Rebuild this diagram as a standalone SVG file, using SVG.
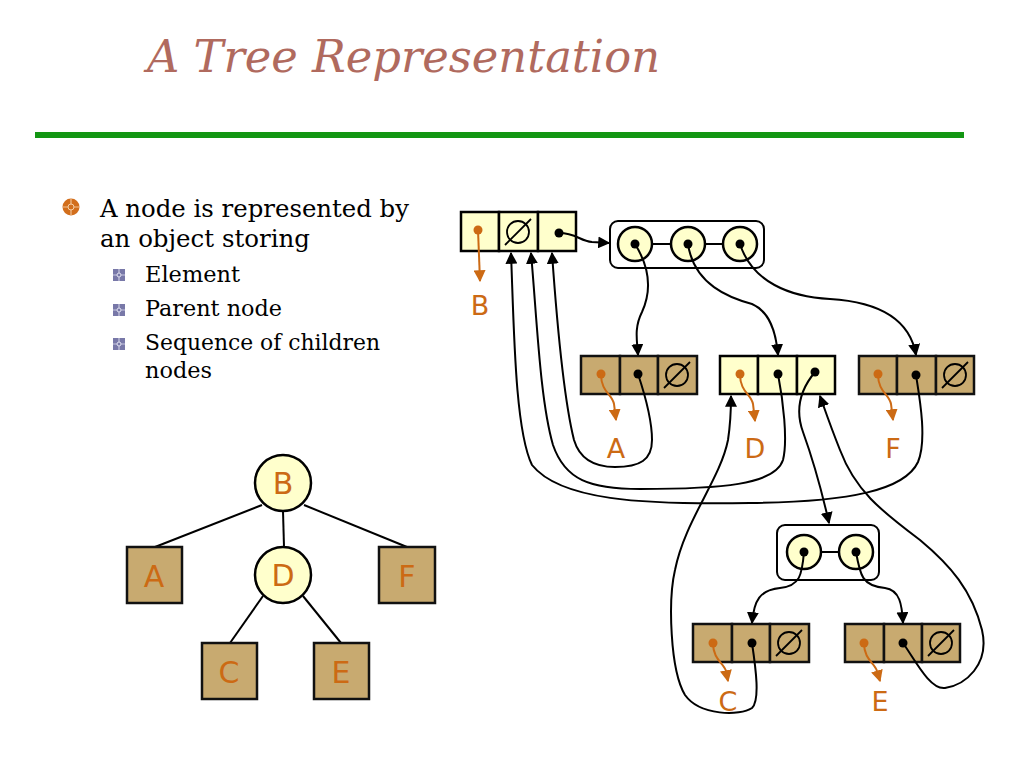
<svg xmlns="http://www.w3.org/2000/svg" width="1024" height="768" viewBox="0 0 1024 768">
<defs>
<style>
.title{font-family:"DejaVu Serif","Liberation Serif",serif;font-style:italic;font-size:44px;fill:#b06a5e}
.body{font-family:"DejaVu Serif","Liberation Serif",serif;font-size:25px;fill:#000}
.sub{font-family:"DejaVu Serif","Liberation Serif",serif;font-size:23px;fill:#000}
.lbl{font-family:"DejaVu Sans","Liberation Sans",sans-serif;font-size:27px;fill:#cc6a14;text-anchor:middle}
.tlbl{font-family:"DejaVu Sans","Liberation Sans",sans-serif;font-size:30px;fill:#cc6a14;text-anchor:middle}
.y{fill:#ffffcc;stroke:#000;stroke-width:2.5}
.t{fill:#c8aa70;stroke:#111;stroke-width:2.5}
.seq{fill:#fff;stroke:#000;stroke-width:2}
.c{fill:none;stroke:#000;stroke-width:2}
.o{fill:none;stroke:#cc6a14;stroke-width:2}
.dot{fill:#000}
.odot{fill:#cc6a14}
.null{fill:none;stroke:#000;stroke-width:1.8}
.edge{stroke:#000;stroke-width:2}
</style>
<marker id="ah" viewBox="0 0 10 10" refX="9" refY="5" markerWidth="6" markerHeight="6" orient="auto"><path d="M0,0 L10,5 L0,10 z" fill="#000"/></marker>
<marker id="oh" viewBox="0 0 10 10" refX="9" refY="5" markerWidth="6" markerHeight="6" orient="auto"><path d="M0,0 L10,5 L0,10 z" fill="#cc6a14"/></marker>
<g id="nullsym"><circle cx="0" cy="0" r="11" class="null"/><line x1="-13" y1="13" x2="13" y2="-13" class="null"/></g>
<g id="sbul"><rect x="-6" y="-6" width="12" height="12" fill="#7878a8"/><path d="M0,-6 V6 M-6,0 H6" stroke="#c8c8e0" stroke-width="1.2"/><circle r="2" fill="#7878a8" stroke="#e0e0f0" stroke-width="1"/></g>
</defs>
<rect width="1024" height="768" fill="#fff"/>

<text class="title" x="147" y="72" textLength="513" lengthAdjust="spacingAndGlyphs">A Tree Representation</text>
<rect x="35" y="132" width="929" height="6" fill="#139613"/>

<g id="bullets">
<circle cx="71" cy="207" r="8.5" fill="#d26e1c"/>
<path d="M71,199 V215 M63,207 H79" stroke="#f0c090" stroke-width="1.2"/>
<circle cx="71" cy="207" r="3" fill="#d26e1c" stroke="#f5d0a8" stroke-width="1"/>
<text class="body" x="100" y="217" textLength="309" lengthAdjust="spacingAndGlyphs">A node is represented by</text>
<text class="body" x="100" y="247" textLength="210" lengthAdjust="spacingAndGlyphs">an object storing</text>
<use href="#sbul" x="119" y="275"/>
<text class="sub" x="145" y="282" textLength="95" lengthAdjust="spacingAndGlyphs">Element</text>
<use href="#sbul" x="119" y="310"/>
<text class="sub" x="145" y="316" textLength="137" lengthAdjust="spacingAndGlyphs">Parent node</text>
<use href="#sbul" x="119" y="344"/>
<text class="sub" x="145" y="350" textLength="235" lengthAdjust="spacingAndGlyphs">Sequence of children</text>
<text class="sub" x="145" y="378" textLength="67" lengthAdjust="spacingAndGlyphs">nodes</text>
</g>

<g id="tree">
<g id="tree-edges">
<line class="edge" x1="262" y1="505" x2="155" y2="547"/>
<line class="edge" x1="283" y1="511" x2="284" y2="547"/>
<line class="edge" x1="304" y1="505" x2="407" y2="547"/>
<line class="edge" x1="263" y1="596" x2="230" y2="643"/>
<line class="edge" x1="303" y1="596" x2="341" y2="643"/>
</g>
<g id="tB"><circle cx="283" cy="483" r="28" class="y"/><text class="tlbl" x="283" y="494">B</text></g>
<g id="tA"><rect x="127" y="547" width="55" height="56" class="t"/><text class="tlbl" x="154" y="587">A</text></g>
<g id="tD"><circle cx="283" cy="575" r="28" class="y"/><text class="tlbl" x="283" y="586">D</text></g>
<g id="tF"><rect x="379" y="547" width="56" height="56" class="t"/><text class="tlbl" x="407" y="587">F</text></g>
<g id="tC"><rect x="202" y="643" width="55" height="56" class="t"/><text class="tlbl" x="229" y="683">C</text></g>
<g id="tE"><rect x="314" y="643" width="55" height="56" class="t"/><text class="tlbl" x="341" y="683">E</text></g>
</g>

<g id="nodeB">
<rect x="461" y="212" width="38" height="39" class="y"/>
<rect x="499" y="212" width="39" height="39" class="y"/>
<rect x="538" y="212" width="38" height="39" class="y"/>
<use href="#nullsym" x="518" y="232"/>
<circle cx="478" cy="230" r="4.5" class="odot"/>
<circle cx="559" cy="233" r="4.5" class="dot"/>
<path class="o" d="M478,230 L480,281" marker-end="url(#oh)"/>
<text class="lbl" x="480" y="315">B</text>
</g>

<g id="seqB">
<rect x="610" y="221" width="154" height="47" rx="8" class="seq"/>
<line x1="652" y1="244" x2="671" y2="244" class="edge"/>
<line x1="705" y1="244" x2="723" y2="244" class="edge"/>
<circle cx="635" cy="244" r="17" class="y"/>
<circle cx="688" cy="244" r="17" class="y"/>
<circle cx="740" cy="244" r="17" class="y"/>
<circle cx="635" cy="244" r="4.5" class="dot"/>
<circle cx="688" cy="244" r="4.5" class="dot"/>
<circle cx="740" cy="244" r="4.5" class="dot"/>
</g>

<g id="nodeA">
<rect x="581" y="356" width="39" height="38" class="t"/>
<rect x="620" y="356" width="38" height="38" class="t"/>
<rect x="658" y="356" width="39" height="38" class="t"/>
<use href="#nullsym" x="677" y="375"/>
<circle cx="601" cy="374" r="4.5" class="odot"/>
<circle cx="638" cy="374" r="4.5" class="dot"/>
<path class="o" d="M601,374 C601,392 612,394 614,404 L616,420" marker-end="url(#oh)"/>
<text class="lbl" x="616" y="458">A</text>
</g>

<g id="nodeD">
<rect x="720" y="356" width="38" height="38" class="y"/>
<rect x="758" y="356" width="39" height="38" class="y"/>
<rect x="797" y="356" width="38" height="38" class="y"/>
<circle cx="740" cy="374" r="4.5" class="odot"/>
<circle cx="778" cy="374" r="4.5" class="dot"/>
<circle cx="815" cy="372" r="4.5" class="dot"/>
<path class="o" d="M740,374 C740,392 751,394 753,404 L755,421" marker-end="url(#oh)"/>
<text class="lbl" x="755" y="458">D</text>
</g>

<g id="nodeF">
<rect x="859" y="356" width="38" height="38" class="t"/>
<rect x="897" y="356" width="39" height="38" class="t"/>
<rect x="936" y="356" width="38" height="38" class="t"/>
<use href="#nullsym" x="955" y="375"/>
<circle cx="878" cy="374" r="4.5" class="odot"/>
<circle cx="916" cy="375" r="4.5" class="dot"/>
<path class="o" d="M878,374 C878,392 889,394 891,404 L893,420" marker-end="url(#oh)"/>
<text class="lbl" x="893" y="458">F</text>
</g>

<g id="seqD">
<rect x="777" y="525" width="102" height="55" rx="8" class="seq"/>
<line x1="821" y1="552" x2="839" y2="552" class="edge"/>
<circle cx="804" cy="552" r="17" class="y"/>
<circle cx="856" cy="552" r="17" class="y"/>
<circle cx="804" cy="552" r="4.5" class="dot"/>
<circle cx="856" cy="552" r="4.5" class="dot"/>
</g>

<g id="nodeC">
<rect x="693" y="624" width="39" height="38" class="t"/>
<rect x="732" y="624" width="38" height="38" class="t"/>
<rect x="770" y="624" width="39" height="38" class="t"/>
<use href="#nullsym" x="789" y="643"/>
<circle cx="713" cy="643" r="4.5" class="odot"/>
<circle cx="752" cy="643" r="4.5" class="dot"/>
<path class="o" d="M713,643 C713,660 724,663 726,671 L728,681" marker-end="url(#oh)"/>
<text class="lbl" x="728" y="711">C</text>
</g>

<g id="nodeE">
<rect x="845" y="624" width="39" height="38" class="t"/>
<rect x="884" y="624" width="38" height="38" class="t"/>
<rect x="922" y="624" width="38" height="38" class="t"/>
<use href="#nullsym" x="941" y="643"/>
<circle cx="864" cy="643" r="4.5" class="odot"/>
<circle cx="903" cy="643" r="4.5" class="dot"/>
<path class="o" d="M864,643 C864,660 875,663 877,671 L880,681" marker-end="url(#oh)"/>
<text class="lbl" x="880" y="711">E</text>
</g>

<g id="connectors">
<path class="c" d="M559,233 C576,233 580,241 592,242 L609,243" marker-end="url(#ah)"/>
<path class="c" d="M635,244 C650,268 652,290 642,312 C634,328 637,340 638,355" marker-end="url(#ah)"/>
<path class="c" d="M688,244 C694,285 730,298 752,304 C770,312 776,332 778,355" marker-end="url(#ah)"/>
<path class="c" d="M740,244 C752,282 790,297 830,299 C880,302 910,320 916,355" marker-end="url(#ah)"/>
<path class="c" d="M638,374 C645,395 652,420 652,440 C652,460 640,467 615,467 C595,467 580,460 574,440 C564,400 556,310 552,253" marker-end="url(#ah)"/>
<path class="c" d="M778,374 C783,400 788,440 783,460 C775,485 720,489 640,489 C590,489 565,480 553,445 C540,400 537,320 531,253" marker-end="url(#ah)"/>
<path class="c" d="M916,375 C920,400 927,440 918,462 C905,490 850,502 750,503 C640,505 560,500 532,465 C515,430 514,330 511,253" marker-end="url(#ah)"/>
<path class="c" d="M815,372 C800,390 795,410 803,432 C812,457 822,492 829,523" marker-end="url(#ah)"/>
<path class="c" d="M752,643 C756,670 760,700 752,708 C740,716 700,716 685,695 C670,670 668,600 675,570 C685,520 720,480 728,440 C731,420 731,405 731,396" marker-end="url(#ah)"/>
<path class="c" d="M903,643 C915,660 930,690 945,688 C965,685 990,665 982,630 C972,590 950,565 920,540 C880,510 855,490 840,450 C830,425 825,410 820,396" marker-end="url(#ah)"/>
<path class="c" d="M804,552 C802,575 800,586 780,588 C760,590 754,600 752,623" marker-end="url(#ah)"/>
<path class="c" d="M856,552 C860,575 862,586 885,588 C900,590 902,605 903,623" marker-end="url(#ah)"/>
</g>
</svg>
